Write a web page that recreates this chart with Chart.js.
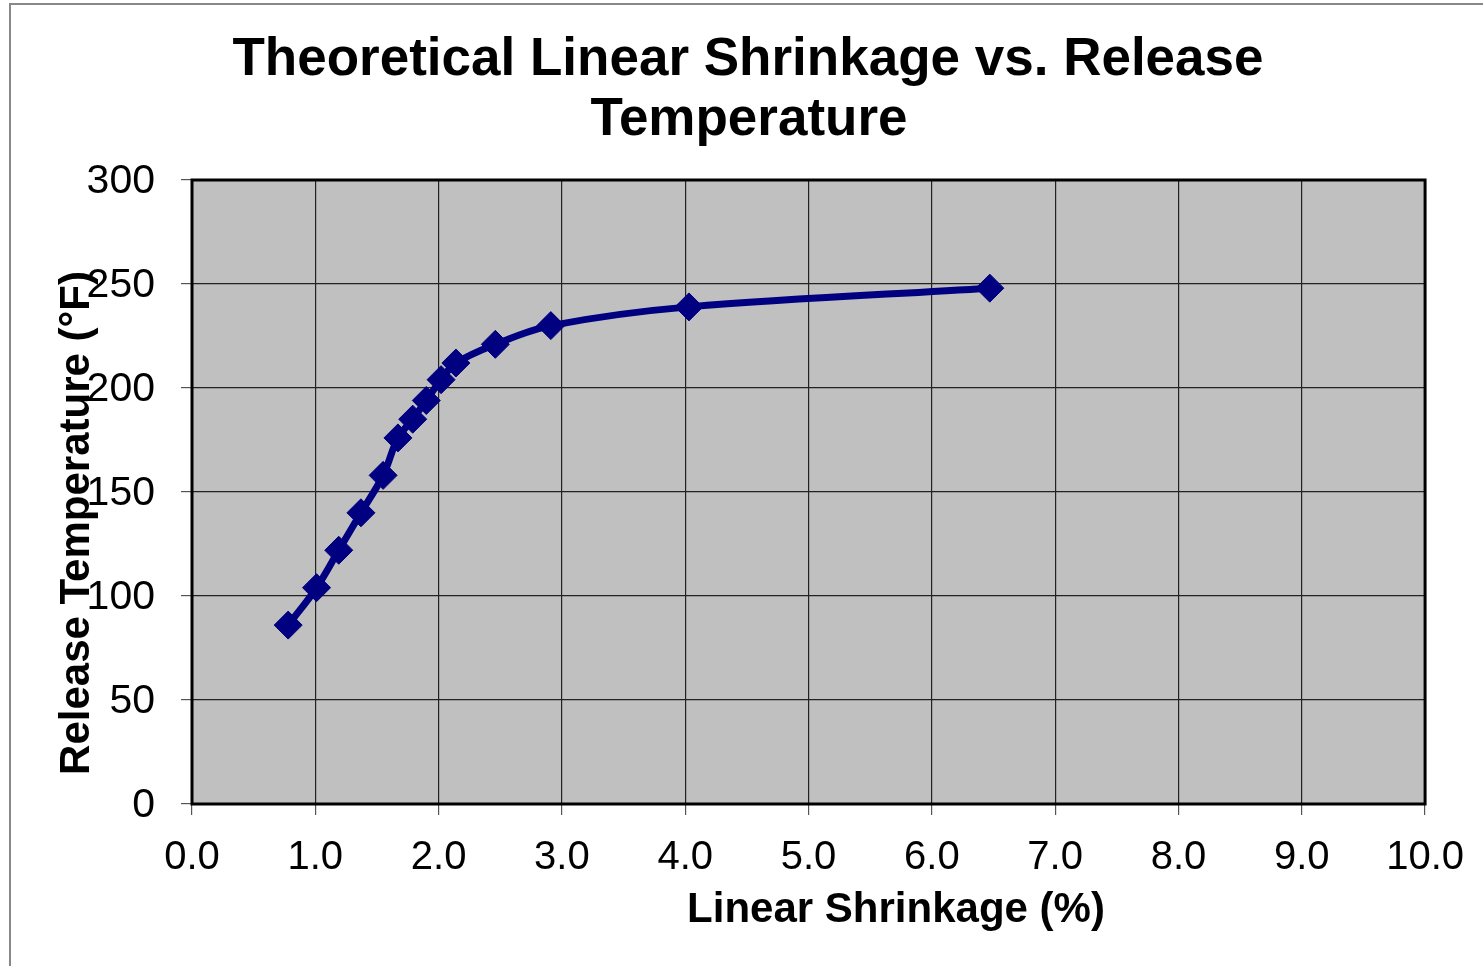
<!DOCTYPE html>
<html>
<head>
<meta charset="utf-8">
<script src="https://cdn.jsdelivr.net/npm/chart.js@4.4.1/dist/chart.umd.min.js"></script>
<style>
  html, body { margin: 0; padding: 0; background: #fff; }
  #wrap { width: 1483px; height: 966px; position: relative; }
</style>
</head>
<body>
<div id="wrap"><canvas id="shrinkChart" width="1483" height="966"></canvas></div>
<script>
const titleLines = ["Theoretical Linear Shrinkage vs. Release", "Temperature"];
const xTitle = "Linear Shrinkage (%)";
const yTitle = "Release Temperature (°F)";

const shrinkage = [0.78, 1.01, 1.19, 1.37, 1.55, 1.67, 1.79, 1.90, 2.02, 2.14, 2.46, 2.91, 4.03, 6.47];
const temperature = [86, 104, 122, 140, 158, 176, 185, 194, 204, 212, 221, 230, 239, 248];

const xMin = 0, xMax = 10, xStep = 1;
const yMin = 0, yMax = 300, yStep = 50;

const FONT = "'Liberation Sans', Arial, sans-serif";

const decor = {
  id: "decor",
  beforeDraw(chart) {
    const { ctx, chartArea: a } = chart;
    ctx.save();
    // outer frame (only top and left visible)
    ctx.strokeStyle = "#888";
    ctx.lineWidth = 2;
    ctx.beginPath();
    ctx.moveTo(10, 966);
    ctx.lineTo(10, 4);
    ctx.lineTo(1483, 4);
    ctx.stroke();
    // plot background
    ctx.fillStyle = "#c0c0c0";
    ctx.fillRect(a.left, a.top, a.right - a.left, a.bottom - a.top);
    ctx.restore();
  },
  afterDraw(chart) {
    const { ctx, chartArea: a } = chart;
    ctx.save();
    ctx.strokeStyle = "#000";
    ctx.lineWidth = 3;
    ctx.strokeRect(a.left, a.top, a.right - a.left, a.bottom - a.top);

    ctx.fillStyle = "#000";
    ctx.textAlign = "center";
    ctx.textBaseline = "middle";
    ctx.font = "bold 53px " + FONT;
    ctx.fillText(titleLines[0], 748, 60);
    ctx.fillText(titleLines[1], 749, 120);

    ctx.font = "bold 42px " + FONT;
    ctx.fillText(xTitle, 896, 910);

    ctx.translate(77, 523);
    ctx.rotate(-Math.PI / 2);
    ctx.fillText(yTitle, 0, 0);
    ctx.restore();
  }
};

new Chart(document.getElementById("shrinkChart"), {
  type: "scatter",
  data: {
    datasets: [{
      label: "Release Temperature",
      data: shrinkage.map((x, i) => ({ x, y: temperature[i] })),
      showLine: true,
      borderColor: "#000080",
      backgroundColor: "#000080",
      borderWidth: 7,
      tension: 0.35,
      pointStyle: "rectRot",
      pointRadius: 14,
      pointBorderWidth: 1,
      pointBorderColor: "#000080",
      pointBackgroundColor: "#000080"
    }]
  },
  options: {
    responsive: false,
    animation: false,
    layout: { padding: { top: 180, right: 56, bottom: 0, left: 0 } },
    plugins: {
      legend: { display: false },
      tooltip: { enabled: false }
    },
    scales: {
      x: {
        type: "linear",
        min: xMin,
        max: xMax,
        afterFit(s) { s.height = 162; },
        grid: { color: "#222", lineWidth: 1.2, tickLength: 11, tickColor: "#555" },
        border: { display: false },
        ticks: {
          stepSize: xStep,
          color: "#000",
          padding: 19,
          maxRotation: 0,
          font: { family: FONT, size: 40 },
          callback: v => v.toFixed(1)
        }
      },
      y: {
        min: yMin,
        max: yMax,
        afterFit(s) { s.width = 192; },
        grid: { color: "#222", lineWidth: 1.2, tickLength: 11, tickColor: "#555" },
        border: { display: false },
        ticks: {
          stepSize: yStep,
          color: "#000",
          padding: 26,
          labelOffset: 2,
          font: { family: FONT, size: 41 }
        }
      }
    }
  },
  plugins: [decor]
});
</script>
</body>
</html>
